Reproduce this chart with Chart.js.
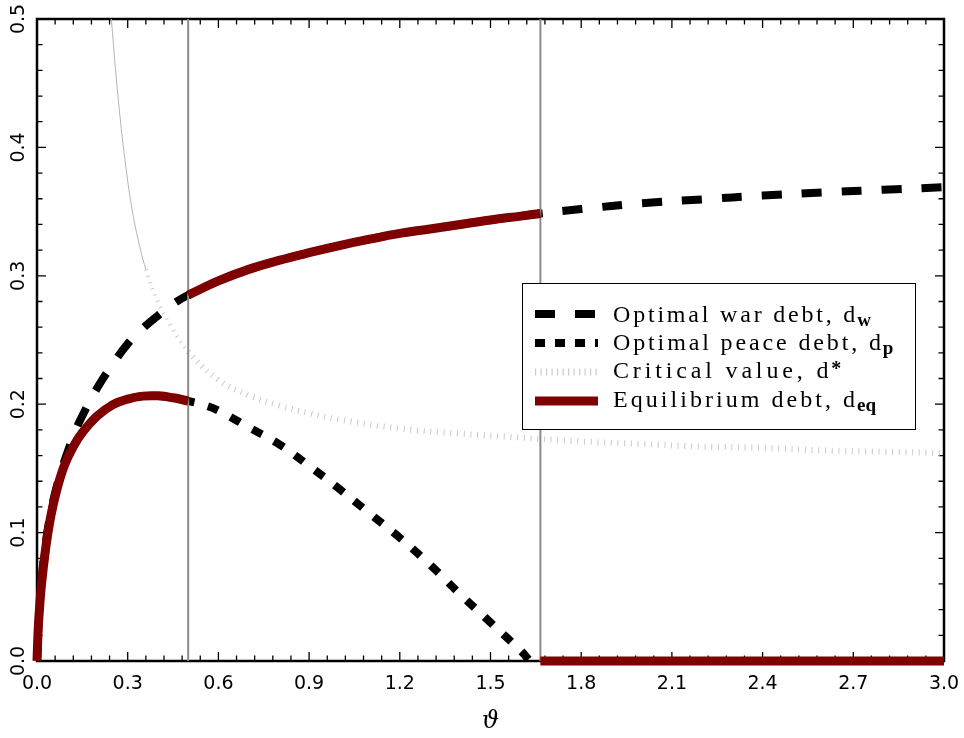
<!DOCTYPE html>
<html>
<head>
<meta charset="utf-8">
<script src="https://cdn.jsdelivr.net/npm/chart.js@4.4.1/dist/chart.umd.min.js"></script>
<style>
  html, body { margin: 0; padding: 0; background: #fff; }
  canvas { display: block; }
</style>
</head>
<body>
<canvas id="debt" width="964" height="738"></canvas>
<script>
// optimal war debt d_w
const warTheta = [0, 0.008, 0.015, 0.03, 0.045, 0.06, 0.08, 0.1, 0.125, 0.15, 0.2, 0.25, 0.3, 0.35, 0.4, 0.45, 0.5,
  0.6, 0.7, 0.8, 0.9, 1.0, 1.1, 1.2, 1.3, 1.4, 1.5, 1.6, 1.665, 1.8, 2.0, 2.2, 2.4, 2.6, 2.8, 3.0];
const warDebt = [0, 0.042, 0.063, 0.094, 0.115, 0.131, 0.148, 0.162, 0.178, 0.191, 0.213, 0.231, 0.247, 0.259, 0.269, 0.278, 0.285,
  0.296, 0.305, 0.312, 0.318, 0.3235, 0.3285, 0.333, 0.3365, 0.34, 0.3435, 0.3465, 0.3485, 0.352, 0.3565, 0.3595, 0.3625, 0.365, 0.367, 0.369];

// optimal peace debt d_p
const peaceTheta = [0, 0.004, 0.008, 0.015, 0.03, 0.045, 0.065, 0.09, 0.12, 0.15, 0.2, 0.25, 0.3, 0.35, 0.4, 0.45, 0.5,
  0.55, 0.6, 0.7, 0.8, 0.9, 1.0, 1.1, 1.2, 1.3, 1.4, 1.5, 1.6, 1.63];
const peaceDebt = [0, 0.025, 0.04, 0.06, 0.09, 0.112, 0.133, 0.152, 0.167, 0.178, 0.191, 0.1995, 0.204, 0.2063, 0.2065, 0.205, 0.2025,
  0.1995, 0.195, 0.182, 0.169, 0.152, 0.134, 0.115, 0.096, 0.075, 0.052, 0.030, 0.008, 0];

// critical value d*
const critTheta = [0.246, 0.26, 0.275, 0.29, 0.31, 0.33, 0.36, 0.4, 0.45, 0.5, 0.6, 0.7, 0.8, 0.9, 1.0,
  1.2, 1.4, 1.6, 1.8, 2.0, 2.2, 2.4, 2.6, 2.8, 3.0];
const critDebt = [0.5, 0.46, 0.423, 0.392, 0.358, 0.333, 0.305, 0.28, 0.258, 0.241, 0.219, 0.207, 0.199, 0.193, 0.188,
  0.181, 0.177, 0.174, 0.171, 0.169, 0.167, 0.166, 0.164, 0.163, 0.162];

// regime boundaries (vertical lines)
const regimeBounds = [0.5, 1.665];
// equilibrium is zero above the upper bound
const eqZeroTheta = [1.665, 3.0];

const seriesLabels = [
  { text: 'Optimal war debt, d', sub: 'w' },
  { text: 'Optimal peace debt, d', sub: 'p' },
  { text: 'Critical value, d', sup: '*' },
  { text: 'Equilibrium debt, d', sub: 'eq' },
];

const RED = '#7f0000';
const HATCH = '#cacaca';
const pts = (xs, ys) => xs.map((x, i) => ({ x, y: ys[i] }));

// equilibrium pieces: peace debt below 0.5, war debt up to 1.665, then zero
const eqPeace = pts(peaceTheta, peaceDebt).filter(p => p.x <= regimeBounds[0]);
const eqWar = pts(warTheta, warDebt).filter(p => p.x >= regimeBounds[0] && p.x <= regimeBounds[1]);
const eqZero = eqZeroTheta.map(x => ({ x, y: 0 }));

// pixel slope of a segment, used to switch the d* line from thin solid to hatched
const slope = c => Math.abs((c.p1.y - c.p0.y) / ((c.p1.x - c.p0.x) || 0.01));

// inward ticks on all four sides + frame
const framePlugin = {
  id: 'frame',
  beforeDatasetsDraw(chart) {
    const { ctx, chartArea: a, scales: { x, y } } = chart;
    ctx.save();
    ctx.strokeStyle = '#000';
    ctx.lineWidth = 1.3;
    ctx.beginPath();
    for (let i = 0; i <= 50; i++) {
      const px = x.getPixelForValue(i * 0.06);
      const len = i % 5 === 0 ? 9 : 5.5;
      ctx.moveTo(px, a.bottom); ctx.lineTo(px, a.bottom - len);
      ctx.moveTo(px, a.top); ctx.lineTo(px, a.top + len);
    }
    for (let i = 0; i <= 25; i++) {
      const py = y.getPixelForValue(i * 0.02);
      const len = i % 5 === 0 ? 9 : 5.5;
      ctx.moveTo(a.left, py); ctx.lineTo(a.left + len, py);
      ctx.moveTo(a.right, py); ctx.lineTo(a.right - len, py);
    }
    ctx.stroke();
    ctx.lineWidth = 2.5;
    ctx.strokeRect(a.left, a.top, a.width, a.height);
    ctx.restore();
  }
};

// legend with sub/superscripts
const legendPlugin = {
  id: 'debtLegend',
  afterDraw(chart) {
    const ctx = chart.ctx;
    const box = { x: 522, y: 283, w: 393, h: 146 };
    const rows = [314, 343, 372, 401];
    const base = [322, 350, 378, 407];
    ctx.save();
    ctx.fillStyle = '#fff';
    ctx.fillRect(box.x, box.y, box.w, box.h);
    ctx.strokeStyle = '#000';
    ctx.lineWidth = 1;
    ctx.strokeRect(box.x + 0.5, box.y + 0.5, box.w, box.h);

    const styles = [
      { color: '#000', width: 8, dash: [20, 20] },
      { color: '#000', width: 8, dash: [10, 10] },
      { color: HATCH, width: 7, dash: [1.2, 4.3] },
      { color: RED, width: 9, dash: [] },
    ];
    styles.forEach((s, i) => {
      ctx.beginPath();
      ctx.strokeStyle = s.color;
      ctx.lineWidth = s.width;
      ctx.lineCap = 'butt';
      ctx.setLineDash(s.dash);
      ctx.moveTo(535, rows[i]);
      ctx.lineTo(598, rows[i]);
      ctx.stroke();
    });
    ctx.setLineDash([]);

    ctx.fillStyle = '#000';
    ctx.textBaseline = 'alphabetic';
    ctx.textAlign = 'left';
    seriesLabels.forEach((r, i) => {
      ctx.font = '24px "Liberation Serif"';
      ctx.letterSpacing = '0px';
      const natural = ctx.measureText(r.text).width;
      const target = r.text.length * 12.9;
      ctx.letterSpacing = ((target - natural) / r.text.length).toFixed(2) + 'px';
      ctx.fillText(r.text, 613, base[i]);
      const w = ctx.measureText(r.text).width;
      ctx.letterSpacing = '0px';
      if (r.sub) {
        ctx.font = 'bold 19px "Liberation Serif"';
        ctx.fillText(r.sub, 613 + w - 1, base[i] + 4);
      }
      if (r.sup) {
        ctx.font = 'bold 20px "Liberation Serif"';
        ctx.fillText(r.sup, 613 + w - 1, base[i] - 3);
      }
    });
    ctx.restore();
  }
};

const tickFont = { family: 'DejaVu Sans', size: 19 };
const curve = { pointRadius: 0, tension: 0.4, borderCapStyle: 'butt' };

new Chart(document.getElementById('debt'), {
  type: 'line',
  data: {
    datasets: [
      ...[eqPeace, eqWar, eqZero].map(d => ({
        ...curve,
        label: 'Equilibrium debt',
        data: d,
        borderColor: RED,
        borderWidth: 9,
        clip: false,
        order: 0,
      })),
      ...regimeBounds.map(b => ({
        label: 'bound',
        data: [{ x: b, y: 0 }, { x: b, y: 0.5 }],
        borderColor: '#8c8c8c',
        borderWidth: 2,
        pointRadius: 0,
        order: 1,
      })),
      {
        ...curve,
        label: 'Optimal war debt',
        data: pts(warTheta, warDebt),
        borderColor: '#000',
        borderWidth: 8,
        borderDash: [20, 20],
        order: 2,
      },
      {
        ...curve,
        label: 'Optimal peace debt',
        data: pts(peaceTheta, peaceDebt),
        borderColor: '#000',
        borderWidth: 8,
        borderDash: [11, 14],
        order: 3,
      },
      {
        ...curve,
        label: 'Critical value',
        data: pts(critTheta, critDebt),
        borderColor: HATCH,
        borderWidth: 6,
        segment: {
          borderWidth: c => slope(c) > 3 ? 1 : (slope(c) > 1.2 ? 4 : 6),
          borderDash: c => slope(c) > 3 ? [] : [1, 5.7],
          borderColor: c => slope(c) > 3 ? '#b4b4b4' : HATCH,
        },
        order: 4,
      },
    ],
  },
  options: {
    responsive: false,
    devicePixelRatio: 1,
    animation: false,
    events: [],
    layout: { padding: { top: 19, right: 20, left: 0, bottom: 0 } },
    plugins: { legend: { display: false }, tooltip: { enabled: false } },
    scales: {
      x: {
        type: 'linear',
        min: 0,
        max: 3,
        grid: { display: false, drawTicks: false },
        border: { display: false },
        ticks: {
          stepSize: 0.3,
          padding: 12,
          color: '#000',
          font: tickFont,
          maxRotation: 0,
          autoSkip: false,
          callback: v => Number(v).toFixed(1),
        },
        title: {
          display: true,
          text: 'ϑ',
          color: '#000',
          font: { family: 'DejaVu Serif', style: 'italic', size: 24 },
          padding: { top: 0, bottom: 2 },
        },
        afterFit: s => { s.height = 77; s.paddingLeft = 0; s.paddingRight = 0; },
      },
      y: {
        type: 'linear',
        min: 0,
        max: 0.5,
        grid: { display: false, drawTicks: false },
        border: { display: false },
        ticks: {
          stepSize: 0.1,
          padding: 3,
          color: '#000',
          font: tickFont,
          minRotation: 90,
          maxRotation: 90,
          crossAlign: 'center',
          callback: v => Number(v).toFixed(1),
        },
        afterFit: s => { s.width = 37; s.paddingTop = 0; s.paddingBottom = 0; },
      },
    },
  },
  plugins: [framePlugin, legendPlugin],
});
</script>
</body>
</html>
